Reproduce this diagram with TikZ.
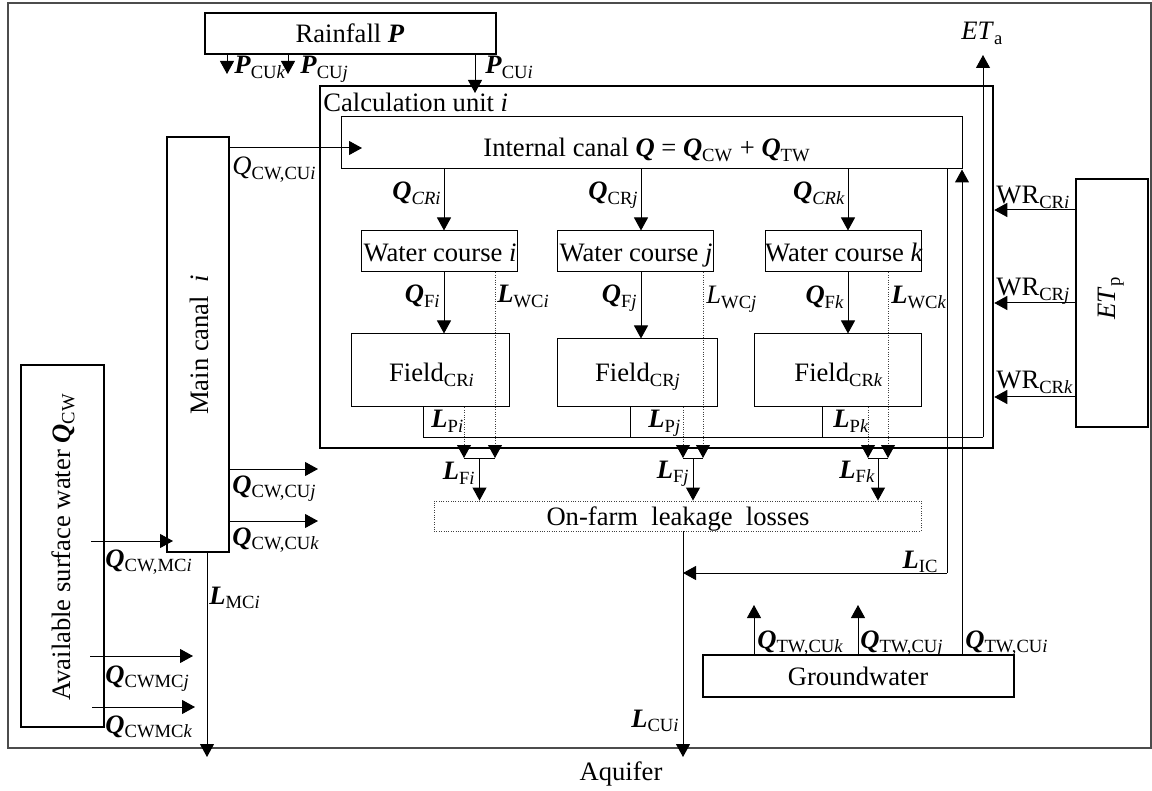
\documentclass[tikz,border=0pt]{standalone}
\usepackage{fontspec}
\setmainfont{Liberation Serif}
\usetikzlibrary{arrows.meta,fit}
\newcommand\bi[1]{\textbf{\textit{#1}}}
\newcommand\sbs[1]{\textsubscript{#1}}
\begin{document}
\begin{tikzpicture}[x=0.5pt,y=-0.5pt,
  font=\fontsize{13.3}{15}\selectfont,
  frame/.style={draw=black!70, line width=0.7pt, inner sep=0pt},
  box/.style={draw, line width=1pt, inner sep=0pt},
  cubox/.style={draw, line width=1.25pt, inner sep=0pt},
  tbox/.style={draw, line width=0.5pt, inner sep=0pt},
  dbox/.style={draw=black!75, line width=0.45pt, dash pattern=on 0.5pt off 0.7pt, inner sep=0pt},
  ln/.style={line width=0.5pt},
  arr/.style={line width=0.5pt, -{Triangle[length=6.5pt,width=7pt]}},
  darr/.style={line width=0.45pt, draw=black!75, dash pattern=on 0.5pt off 0.7pt, -{Triangle[length=6.5pt,width=7pt,color=black]}},
  lab/.style={inner sep=0pt}]
\useasboundingbox (0,0) rectangle (1152,791);
\node[frame, fit={(8,3)(1151,748)}] (frame) {};

% ---------- boxes ----------
\node[box, fit={(205,13)(496,54)}] (rain) {};
\node[lab, anchor=base] (raint) at (350,43) {Rainfall \bi{P}};
\node[cubox, fit={(320,86)(993,448)}] (cu) {};
\node[lab, anchor=base west] (cut) at (323,112) {Calculation unit \textit{i}};
\node[tbox, fit={(341,117)(962,169)}] (canal) {};
\node[lab, anchor=base west] (canalt) at (483,157) {Internal canal \bi{Q} = \bi{Q}\sbs{CW} + \bi{Q}\sbs{TW}};
\node[box, fit={(167,137)(229,552)}] (mc) {};
\node[lab, rotate=90] (mct) at (199,345) {Main canal~~\textit{i}};
\node[box, fit={(21,365)(104,727)}] (asw) {};
\node[lab, rotate=90] (aswt) at (63,547) {Available surface water \bi{Q}\sbs{CW}};
\node[tbox, fit={(361,231)(517,272)}] (wci) {};
\node[tbox, fit={(557,231)(713,272)}] (wcj) {};
\node[tbox, fit={(765,231)(921,272)}] (wck) {};
\node[lab, anchor=base] (wcit) at (440,262) {Water course \textit{i}};
\node[lab, anchor=base] (wcjt) at (636,262) {Water course \textit{j}};
\node[lab, anchor=base] (wckt) at (844,262) {Water course \textit{k}};
\node[tbox, fit={(351,334)(509,407)}] (fi) {};
\node[tbox, fit={(557,339)(717,407)}] (fj) {};
\node[tbox, fit={(754,334)(921,407)}] (fk) {};
\node[lab, anchor=base] (fit) at (432,382) {Field\sbs{CR\textit{i}}};
\node[lab, anchor=base] (fjt) at (638,382) {Field\sbs{CR\textit{j}}};
\node[lab, anchor=base] (fkt) at (839,382) {Field\sbs{CR\textit{k}}};
\node[box, fit={(1076,179)(1148,427)}] (etp) {};
\node[lab, rotate=90] (etpt) at (1111,298) {\textit{ET}\sbs{p}};
\node[dbox, fit={(434,501)(921,531)}] (farm) {};
\node[lab, anchor=base] (farmt) at (678,525) {On-farm~~leakage~~losses};
\node[box, fit={(703,655)(1014,697)}] (gw) {};
\node[lab, anchor=base] (gwt) at (858,685) {Groundwater};

% ---------- rainfall ----------
\coordinate (tPk) at (227,74);
\coordinate (tPj) at (288,74);
\coordinate (tPi) at (475,93);
\draw[arr] (rain.south -| tPk) -- (tPk);
\draw[arr] (rain.south -| tPj) -- (tPj);
\draw[arr] (rain.south -| tPi) -- (tPi);
\node[lab, anchor=base west] (lPk) at (234,74) {\bi{P}\sbs{CU\textit{k}}};
\node[lab, anchor=base west] (lPj) at (300,74) {\bi{P}\sbs{CU\textit{j}}};
\node[lab, anchor=base west] (lPi) at (485,74) {\bi{P}\sbs{CU\textit{i}}};

% ---------- main canal outputs ----------
\coordinate (tQi) at (362,148);
\coordinate (tQj) at (318,469);
\coordinate (tQk) at (318,521);
\draw[arr] (mc.east |- tQi) -- (tQi);
\draw[arr] (mc.east |- tQj) -- (tQj);
\draw[arr] (mc.east |- tQk) -- (tQk);
\node[lab, anchor=base west] (lQcwi) at (232,175) {\textit{Q}\sbs{CW,CU\textit{i}}};
\node[lab, anchor=base west] (lQcwj) at (232,493) {\bi{Q}\sbs{CW,CU\textit{j}}};
\node[lab, anchor=base west] (lQcwk) at (232,545) {\bi{Q}\sbs{CW,CU\textit{k}}};

% ---------- available surface water ----------
\coordinate (sMCi) at (91,541);  \coordinate (tMCi) at (173,541);
\coordinate (sMCj) at (90,656);  \coordinate (tMCj) at (193,656);
\coordinate (sMCk) at (92,707);  \coordinate (tMCk) at (195,707);
\draw[arr] (sMCi) -- (tMCi);
\draw[arr] (sMCj) -- (tMCj);
\draw[arr] (sMCk) -- (tMCk);
\node[lab, anchor=base west] (lMCi) at (105,567) {\bi{Q}\sbs{CW,MC\textit{i}}};
\node[lab, anchor=base west] (lMCj) at (105,683) {\bi{Q}\sbs{CWMC\textit{j}}};
\node[lab, anchor=base west] (lMCk) at (105,733) {\bi{Q}\sbs{CWMC\textit{k}}};
\coordinate (tLMC) at (207,757);
\draw[arr] (mc.south -| tLMC) -- (tLMC);
\node[lab, anchor=base west] (lLMC) at (209,604) {\bi{L}\sbs{MC\textit{i}}};

% ---------- internal canal to water courses and fields ----------
\coordinate (xi) at (444,0);
\coordinate (xj) at (641,0);
\coordinate (xk) at (848,0);
\draw[arr] (canal.south -| xi) -- (wci.north -| xi);
\draw[arr] (canal.south -| xj) -- (wcj.north -| xj);
\draw[arr] (canal.south -| xk) -- (wck.north -| xk);
\draw[arr] (wci.south -| xi) -- (fi.north -| xi);
\draw[arr] (wcj.south -| xj) -- (fj.north -| xj);
\draw[arr] (wck.south -| xk) -- (fk.north -| xk);
\node[lab, anchor=base east] (lCRi) at (442,200) {\bi{Q}\sbs{\textit{CRi}}};
\node[lab, anchor=base east] (lCRj) at (639,200) {\bi{Q}\sbs{CR\textit{j}}};
\node[lab, anchor=base east] (lCRk) at (846,200) {\bi{Q}\sbs{\textit{CRk}}};
\node[lab, anchor=base east] (lFi) at (441,303) {\bi{Q}\sbs{F\textit{i}}};
\node[lab, anchor=base east] (lFj) at (638,303) {\bi{Q}\sbs{F\textit{j}}};
\node[lab, anchor=base east] (lFk) at (845,304) {\bi{Q}\sbs{F\textit{k}}};

% ---------- losses ----------
\coordinate (bi1) at (464,458); \coordinate (bi2) at (495,458); \coordinate (bim) at (479.5,458);
\coordinate (bj1) at (683,458); \coordinate (bj2) at (703,458); \coordinate (bjm) at (693,458);
\coordinate (bk1) at (868,458); \coordinate (bk2) at (888,458); \coordinate (bkm) at (878,458);
\draw[darr] (wci.south -| bi2) -- (bi2);
\draw[darr] (fi.south -| bi1) -- (bi1);
\draw[darr] (wcj.south -| bj2) -- (bj2);
\draw[darr] (fj.south -| bj1) -- (bj1);
\draw[darr] (wck.south -| bk2) -- (bk2);
\draw[darr] (fk.south -| bk1) -- (bk1);
\draw[ln] (bi1) -- (bi2);
\draw[ln] (bj1) -- (bj2);
\draw[ln] (bk1) -- (bk2);
\draw[arr] (bim) -- (farm.north -| bim);
\draw[arr] (bjm) -- (farm.north -| bjm);
\draw[arr] (bkm) -- (farm.north -| bkm);
\node[lab, anchor=base west] (lWCi) at (497,303) {\bi{L}\sbs{WC\textit{i}}};
\node[lab, anchor=base west] (lWCj) at (706,304) {\textit{L}\sbs{WC\textit{j}}};
\node[lab, anchor=base west] (lWCk) at (891,304) {\bi{L}\sbs{WC\textit{k}}};
\node[lab, anchor=base west] (lPpi) at (431,428) {\bi{L}\sbs{P\textit{i}}};
\node[lab, anchor=base west] (lPpj) at (648,428) {\bi{L}\sbs{P\textit{j}}};
\node[lab, anchor=base west] (lPpk) at (833,428) {\bi{L}\sbs{P\textit{k}}};
\node[lab, anchor=base east] (lLFi) at (476,480) {\bi{L}\sbs{F\textit{i}}};
\node[lab, anchor=base east] (lLFj) at (690,478) {\bi{L}\sbs{F\textit{j}}};
\node[lab, anchor=base east] (lLFk) at (876,478) {\bi{L}\sbs{F\textit{k}}};

% ---------- evapotranspiration ----------
\coordinate (e1) at (423,437);
\coordinate (e3) at (630,437);
\coordinate (e4) at (822,437);
\coordinate (e2) at (983,437);
\coordinate (tET) at (983,55);
\draw[ln] (fi.south -| e1) -- (e1) -- (e2);
\draw[ln] (fj.south -| e3) -- (e3);
\draw[ln] (fk.south -| e4) -- (e4);
\draw[arr] (e2) -- (tET);
\node[lab, anchor=base west] (lETa) at (961,40) {\textit{ET}\sbs{a}};

\coordinate (w1) at (0,210);
\coordinate (w2) at (0,303);
\coordinate (w3) at (0,397);
\draw[arr] (etp.west |- w1) -- (cu.east |- w1);
\draw[arr] (etp.west |- w2) -- (cu.east |- w2);
\draw[arr] (etp.west |- w3) -- (cu.east |- w3);
\node[lab, anchor=base west] (lWRi) at (996,204) {WR\sbs{CR\textit{i}}};
\node[lab, anchor=base west] (lWRj) at (996,296) {WR\sbs{CR\textit{j}}};
\node[lab, anchor=base west] (lWRk) at (996,389) {WR\sbs{CR\textit{k}}};

% ---------- canal leakage and outflow to aquifer ----------
\coordinate (ic) at (947,573);
\coordinate (xcu) at (683,0);
\coordinate (tCU) at (683,757);
\draw[ln] (canal.south -| ic) -- (ic);
\draw[arr] (ic) -- (ic -| xcu);
\draw[arr] (farm.south -| tCU) -- (tCU);
\node[lab, anchor=base east] (lLIC) at (939,568) {\bi{L}\sbs{IC}};
\node[lab, anchor=base east] (lLCU) at (680,727) {\bi{L}\sbs{CU\textit{i}}};
\node[lab, anchor=base] (aq) at (621,780) {Aquifer};

% ---------- groundwater ----------
\coordinate (xgi) at (962,0);
\coordinate (tgk) at (754,605);
\coordinate (tgj) at (858,605);
\draw[arr] (gw.north -| xgi) -- (canal.south -| xgi);
\draw[arr] (gw.north -| tgk) -- (tgk);
\draw[arr] (gw.north -| tgj) -- (tgj);
\node[lab, anchor=base west] (lTWk) at (757,648) {\bi{Q}\sbs{TW,CU\textit{k}}};
\node[lab, anchor=base west] (lTWj) at (860,648) {\bi{Q}\sbs{TW,CU\textit{j}}};
\node[lab, anchor=base west] (lTWi) at (965,648) {\bi{Q}\sbs{TW,CU\textit{i}}};
\end{tikzpicture}
\end{document}
